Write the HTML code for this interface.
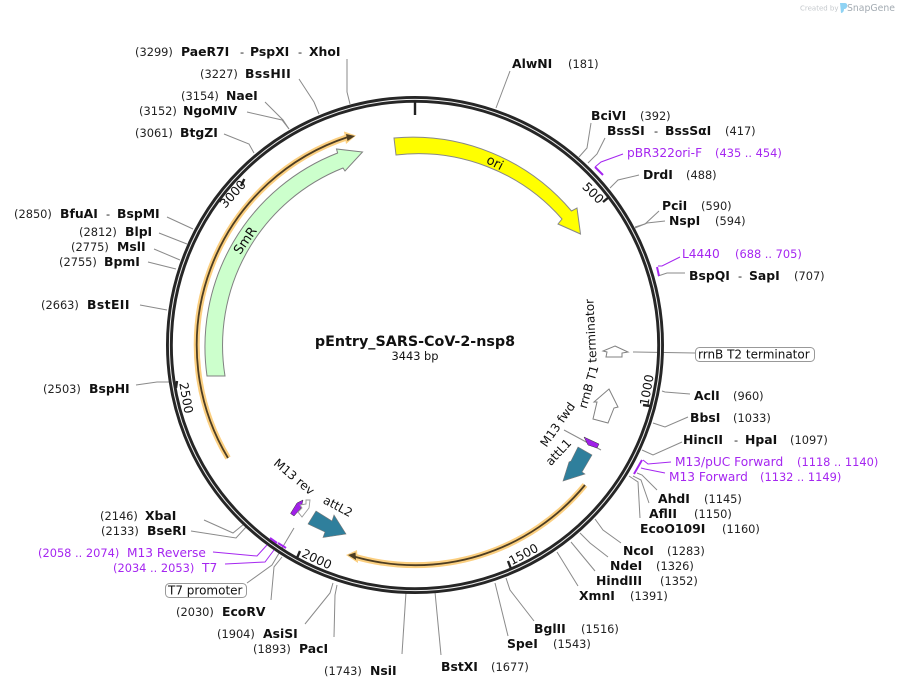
<!DOCTYPE html>
<html><head><meta charset="utf-8"><style>
html,body{margin:0;padding:0;background:#fff}
svg{display:block}
text{font-family:"DejaVu Sans",sans-serif;fill:#111}
.b{font-weight:bold;font-size:12.4px}
.n{font-size:11.4px;fill:#222}
.p{font-size:12.2px;fill:#a526f0}
.q{font-size:11.4px;fill:#a526f0}
.t{font-size:12px}
.w{letter-spacing:.4px}
.c polyline{fill:none;stroke:#8a8a8a;stroke-width:1}
.m polyline{fill:none;stroke:#a526f0;stroke-width:1}
</style></head><body>
<svg width="897" height="689" viewBox="0 0 897 689" xmlns="http://www.w3.org/2000/svg">
<rect width="897" height="689" fill="#fff"/>
<text x="800" y="10.5" style="font-size:7px;fill:#c4c8cc">Created by</text>
<path d="M840,3h5c3,0 3,5 0,6l-1,0c0,2 -1,4 -3,4z" fill="#8fd3f4"/>
<text x="847" y="11" style="font-size:9.3px;fill:#a3abb2">SnapGene</text>

<g class="c">
<polyline points="347,59 347,92 350,104"/>
<polyline points="299,79 314,102 319,114"/>
<polyline points="265,102 283,120 289,129"/>
<polyline points="247,112 282,120 289,129"/>
<polyline points="224,134 249,144 254,153"/>
<polyline points="167,217 193,229"/>
<polyline points="159,233 187,244"/>
<polyline points="154,249 180,260"/>
<polyline points="148,262 176,269"/>
<polyline points="140,305 167,310"/>
<polyline points="136,385 157,382 177,382"/>
<polyline points="204,520 233,533 244,524"/>
<polyline points="191,531 236,538 247,526"/>
<polyline points="247,583 272,565 294,528"/>
<polyline points="271,600 274,567 282,557"/>
<polyline points="305,624 330,593 333,583"/>
<polyline points="334,637 335,595 337,585"/>
<polyline points="406,592 402,654"/>
<polyline points="435,592 441,655"/>
<polyline points="495,583 508,636"/>
<polyline points="506,578 510,590 534,621"/>
<polyline points="557,552 562,560 578,586"/>
<polyline points="571,542 595,571"/>
<polyline points="580,533 590,543 608,557"/>
<polyline points="595,519 603,530 621,543"/>
<polyline points="629,476 638,482 640,518"/>
<polyline points="633,476 641,480 649,503"/>
<polyline points="637,473 642,475 657,490"/>
<polyline points="642,450 653,455 682,442"/>
<polyline points="653,423 665,427 688,417"/>
<polyline points="662,391 665,392 690,394"/>
<polyline points="633,352 695,353"/>
<polyline points="658,276 667,273 685,273"/>
<polyline points="665,221 647,223 635,228"/>
<polyline points="659,211 645,224 635,227"/>
<polyline points="639,175 618,180 610,188"/>
<polyline points="605,138 597,154 588,163"/>
<polyline points="591,123 587,148 579,157"/>
<polyline points="510,71 496,108"/>
<polyline points="564,430 601,450"/>
</g>

<circle cx="415" cy="345" r="245.6" fill="none" stroke="#262626" stroke-width="6.8"/>
<circle cx="415" cy="345" r="245.6" fill="none" stroke="#eee" stroke-width="1"/>

<g class="m">
<polyline points="213,552 257,556 267,545"/>
<polyline points="225,564 265,562 274,550"/>
<polyline points="665,473 645,469 641,468"/>
<polyline points="671,462 648,464 643,460"/>
<polyline points="680,257 662,266 658,266"/>
<polyline points="623,154 601,162 595,167"/>
</g>
<g stroke="#a526f0" stroke-width="2" fill="none">
<line x1="270" y1="538" x2="277" y2="543"/>
<line x1="278" y1="543" x2="286" y2="548"/>
<line x1="642" y1="460" x2="634" y2="474"/>
<line x1="657" y1="267" x2="659" y2="276"/>
<line x1="595" y1="167" x2="603" y2="175"/>
</g>

<g stroke="#222" stroke-width="2.4">
<line x1="415" y1="101" x2="415" y2="115"/>
<line x1="609" y1="197" x2="603" y2="202"/>
<line x1="650" y1="406" x2="643" y2="405"/>
<line x1="510.7" y1="568" x2="508" y2="561"/>
<line x1="297" y1="558" x2="300" y2="551"/>
<line x1="177" y1="381" x2="176" y2="388"/>
<line x1="244.3" y1="179" x2="241" y2="186"/>
</g>

<path d="M394,138 A208,208 0 0 1 571.5,211 L577,208 L580.5,234 L558,224 L562,219 A191,191 0 0 0 396,155 Z" fill="#ffff00" stroke="#888" stroke-width="1"/>
<path d="M207,376 A208,208 0 0 1 337.6,153 L336.5,149 L362.5,152 L345,171 L343,168 A191,191 0 0 0 225,376 Z" fill="#ccffcc" stroke="#808080" stroke-width="1"/>

<path d="M228,458 A219,219 0 0 1 348,137" fill="none" stroke="#fbcf80" stroke-width="6"/>
<path d="M585,485 A220,220 0 0 1 354,556.5" fill="none" stroke="#fbcf80" stroke-width="6"/>
<polygon points="356,135.5 344,131.5 346,144" fill="#fbcf80"/>
<polygon points="346,555 357,550 358,563" fill="#fbcf80"/>
<path d="M228,458 A219,219 0 0 1 348,137" fill="none" stroke="#4d3d22" stroke-width="1.8"/>
<path d="M585,485 A220,220 0 0 1 354,556.5" fill="none" stroke="#4d3d22" stroke-width="1.8"/>
<polygon points="355,136 346,134 347.5,141" fill="#4d3d22"/>
<polygon points="348,555 355.5,552.5 356,560" fill="#4d3d22"/>

<polygon points="578,447 592,455 582,472 585,474 563,481 569,462 571,461" fill="#2f7f9c" stroke="#777" stroke-width=".6"/>
<polygon points="316,511 332,521 334,515 346,534 323,537.5 325,532 308,524" fill="#2f7f9c" stroke="#777" stroke-width=".6"/>
<polygon points="609,389 618,407 614,408 608,423 593,419 597,402 594,402" fill="#fff" stroke="#808080" stroke-width="1"/>
<polygon points="615,346 628,352 622,353 622,357 606,357 607,352 603,351" fill="#fff" stroke="#808080" stroke-width="1"/>

<polygon points="584,437 599,444 597,448 588,445" fill="#a020e8" stroke="#333" stroke-width=".5"/>
<polygon points="303,500 301,508 294,516 290.5,513.5 297,503" fill="#a020e8" stroke="#333" stroke-width=".5"/>
<path d="M310,500 L309,508 L302,517 L298,512 L302,508 L300,505 L306,504 L306,500 Z" fill="#fff" stroke="#999" stroke-width=".9"/>

<text class="b" x="181" y="56">PaeR7I</text><text class="n" x="135" y="56">(3299)</text><text class="n" x="240" y="56">-</text><text class="b" x="250" y="56">PspXI</text><text class="n" x="298" y="56">-</text><text class="b" x="309" y="56">XhoI</text>
<text class="n" x="200" y="78">(3227)</text><text class="b w" x="245" y="78">BssHII</text>
<text class="n" x="181" y="100">(3154)</text><text class="b" x="226" y="100">NaeI</text>
<text class="n" x="139" y="115">(3152)</text><text class="b" x="183" y="115">NgoMIV</text>
<text class="n" x="135" y="137">(3061)</text><text class="b" x="180" y="137">BtgZI</text>
<text class="n" x="14" y="218">(2850)</text><text class="b" x="60" y="218">BfuAI</text><text class="n" x="106" y="218">-</text><text class="b" x="117" y="218">BspMI</text>
<text class="n" x="79" y="236">(2812)</text><text class="b" x="125" y="236">BlpI</text>
<text class="n" x="71" y="251">(2775)</text><text class="b" x="117" y="251">MslI</text>
<text class="n" x="59" y="266">(2755)</text><text class="b" x="104" y="266">BpmI</text>
<text class="n" x="41" y="309">(2663)</text><text class="b w" x="87" y="309">BstEII</text>
<text class="n" x="43" y="393">(2503)</text><text class="b" x="89" y="393">BspHI</text>
<text class="n" x="100" y="520">(2146)</text><text class="b" x="145" y="520">XbaI</text>
<text class="n" x="101" y="535">(2133)</text><text class="b" x="147" y="535">BseRI</text>
<text class="q" x="38" y="557">(2058 .. 2074)</text><text class="p" x="127" y="557">M13 Reverse</text>
<text class="q" x="113" y="572">(2034 .. 2053)</text><text class="p" x="202" y="572">T7</text>
<rect x="165.5" y="583.5" width="81" height="14" rx="4" fill="#fff" stroke="#999"/>
<text class="t" x="168" y="594.5">T7 promoter</text>
<text class="n" x="176" y="616">(2030)</text><text class="b" x="222" y="616">EcoRV</text>
<text class="n" x="217" y="638">(1904)</text><text class="b" x="263" y="638">AsiSI</text>
<text class="n" x="253" y="653">(1893)</text><text class="b" x="299" y="653">PacI</text>
<text class="n" x="324" y="675">(1743)</text><text class="b" x="370" y="675">NsiI</text>
<text class="b" x="441" y="671">BstXI</text><text class="n" x="491" y="671">(1677)</text>
<text class="b" x="507" y="648">SpeI</text><text class="n" x="553" y="648">(1543)</text>
<text class="b" x="534" y="633">BglII</text><text class="n" x="581" y="633">(1516)</text>
<text class="b" x="579" y="600">XmnI</text><text class="n" x="630" y="600">(1391)</text>
<text class="b" x="596" y="585">HindIII</text><text class="n" x="660" y="585">(1352)</text>
<text class="b" x="610" y="570">NdeI</text><text class="n" x="656" y="570">(1326)</text>
<text class="b" x="623" y="555">NcoI</text><text class="n" x="667" y="555">(1283)</text>
<text class="b" x="640" y="533">EcoO109I</text><text class="n" x="722" y="533">(1160)</text>
<text class="b" x="649" y="518">AflII</text><text class="n" x="694" y="518">(1150)</text>
<text class="b" x="658" y="503">AhdI</text><text class="n" x="704" y="503">(1145)</text>
<text class="p" x="669" y="481">M13 Forward</text><text class="q" x="760" y="481">(1132 .. 1149)</text>
<text class="p" x="675" y="466">M13/pUC Forward</text><text class="q" x="797" y="466">(1118 .. 1140)</text>
<text class="b" x="683" y="444">HincII</text><text class="n" x="734" y="444">-</text><text class="b" x="745" y="444">HpaI</text><text class="n" x="790" y="444">(1097)</text>
<text class="b" x="690" y="422">BbsI</text><text class="n" x="733" y="422">(1033)</text>
<text class="b" x="694" y="400">AclI</text><text class="n" x="733" y="400">(960)</text>
<rect x="695.5" y="347.5" width="119" height="14" rx="4" fill="#fff" stroke="#999"/>
<text class="t" x="698" y="358.5">rrnB T2 terminator</text>
<text class="b" x="689" y="280">BspQI</text><text class="n" x="738" y="280">-</text><text class="b" x="749" y="280">SapI</text><text class="n" x="794" y="280">(707)</text>
<text class="p" x="682" y="258">L4440</text><text class="q" x="735" y="258">(688 .. 705)</text>
<text class="b" x="669" y="225">NspI</text><text class="n" x="715" y="225">(594)</text>
<text class="b" x="662" y="210">PciI</text><text class="n" x="701" y="210">(590)</text>
<text class="b" x="643" y="179">DrdI</text><text class="n" x="686" y="179">(488)</text>
<text class="p" x="627" y="157">pBR322ori-F</text><text class="q" x="715" y="157">(435 .. 454)</text>
<text class="b" x="607" y="135">BssSI</text><text class="n" x="654" y="135">-</text><text class="b" x="665" y="135">BssSαI</text><text class="n" x="725" y="135">(417)</text>
<text class="b" x="591" y="120">BciVI</text><text class="n" x="640" y="120">(392)</text>
<text class="b" x="512" y="68">AlwNI</text><text class="n" x="568" y="68">(181)</text>

<text x="415" y="346" text-anchor="middle" style="font-weight:bold;font-size:14.3px">pEntry_SARS-CoV-2-nsp8</text>
<text x="415" y="360" text-anchor="middle" style="font-size:11.4px">3443 bp</text>

<g class="t" text-anchor="middle">
<text transform="translate(493,166.5) rotate(27)" style="font-size:13px">ori</text>
<text transform="translate(248.7,243) rotate(-55)" style="font-size:13px">SmR</text>
<text transform="translate(236,197) rotate(-48)" style="font-size:12.6px">3000</text>
<text transform="translate(590,196) rotate(45)" style="font-size:12.6px">500</text>
<text transform="translate(651,390.7) rotate(-80)" style="font-size:12.3px">1000</text>
<text transform="translate(525.5,558) rotate(-28)" style="font-size:12.3px">1500</text>
<text transform="translate(315,563) rotate(25)" style="font-size:12.3px">2000</text>
<text transform="translate(182,398.7) rotate(80)" style="font-size:12.3px">2500</text>
<text transform="translate(291.5,480) rotate(40)">M13 rev</text>
<text transform="translate(336,510) rotate(28)">attL2</text>
<text transform="translate(561,427) rotate(-55)">M13 fwd</text>
<text transform="translate(561.5,455) rotate(-47)">attL1</text>
<text transform="translate(592.5,388) rotate(-74)">rrnB T1</text>
<text transform="translate(595,330.6) rotate(-93)">terminator</text>
</g>
</svg>
</body></html>
